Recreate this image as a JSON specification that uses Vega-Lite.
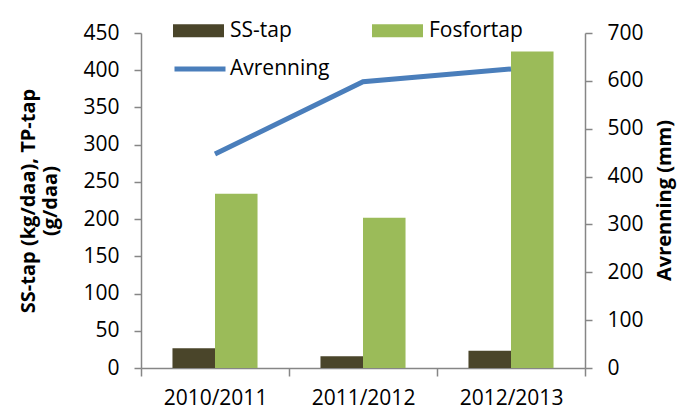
{
  "$schema": "https://vega.github.io/schema/vega-lite/v6.json",
  "width": 444,
  "height": 335,
  "autosize": {"type": "none"},
  "padding": {"left": 141, "top": 33, "right": 92, "bottom": 42},
  "background": "white",
  "datasets": {
    "bars": [
      {"year": "2010/2011", "series": "SS-tap", "value": 26.4},
      {"year": "2010/2011", "series": "Fosfortap", "value": 234},
      {"year": "2011/2012", "series": "SS-tap", "value": 15.7},
      {"year": "2011/2012", "series": "Fosfortap", "value": 201.7},
      {"year": "2012/2013", "series": "SS-tap", "value": 23.3},
      {"year": "2012/2013", "series": "Fosfortap", "value": 425}
    ],
    "flow": [
      {"year": "2010/2011", "avrenning": 447},
      {"year": "2011/2012", "avrenning": 598},
      {"year": "2012/2013", "avrenning": 625}
    ]
  },
  "config": {
    "view": {"stroke": null},
    "font": "Open Sans",
    "axis": {
      "grid": false,
      "domainColor": "#868686",
      "tickColor": "#868686",
      "domainWidth": 1.5,
      "tickWidth": 1.5,
      "labelColor": "#000000",
      "labelFont": "Open Sans",
      "labelFontSize": 21,
      "titleFont": "Open Sans",
      "titleFontSize": 20,
      "titleColor": "#000000",
      "titleFontWeight": "bold"
    },
    "legend": {
      "labelFont": "Open Sans",
      "labelFontSize": 21,
      "labelColor": "#000000",
      "padding": 0,
      "labelOffset": 6
    }
  },
  "layer": [
    {
      "data": {"name": "bars"},
      "mark": {"type": "bar"},
      "encoding": {
        "x": {
          "field": "year",
          "type": "nominal",
          "scale": {"paddingInner": 0, "paddingOuter": 0},
          "axis": {"title": null, "labelAngle": 0, "tickBand": "extent", "tickSize": 8, "labelPadding": 11}
        },
        "xOffset": {
          "field": "series",
          "type": "nominal",
          "sort": ["SS-tap", "Fosfortap"],
          "scale": {"paddingInner": 0, "paddingOuter": 0.74}
        },
        "y": {
          "field": "value",
          "type": "quantitative",
          "scale": {"domain": [0, 450]},
          "axis": {
            "values": [0, 50, 100, 150, 200, 250, 300, 350, 400, 450],
            "title": ["SS-tap (kg/daa), TP-tap", "(g/daa)"],
            "tickSize": 7,
            "labelPadding": 15,
            "titlePadding": 22
          }
        },
        "fill": {
          "field": "series",
          "type": "nominal",
          "sort": ["SS-tap", "Fosfortap"],
          "scale": {"domain": ["SS-tap", "Fosfortap"], "range": ["#4A452A", "#9BBB59"]},
          "legend": {
            "orient": "none",
            "legendX": 32,
            "legendY": -28,
            "direction": "horizontal",
            "title": null,
            "symbolType": "M-1,-0.255H1V0.255H-1Z",
            "symbolSize": 2601,
            "symbolStrokeWidth": 0,
            "symbolOpacity": 1,
            "columnPadding": 80
          }
        }
      }
    },
    {
      "data": {"name": "flow"},
      "mark": {"type": "line", "strokeWidth": 5},
      "encoding": {
        "x": {"field": "year", "type": "nominal"},
        "y": {
          "field": "avrenning",
          "type": "quantitative",
          "scale": {"domain": [0, 700]},
          "axis": {
            "orient": "right",
            "values": [0, 100, 200, 300, 400, 500, 600, 700],
            "title": "Avrenning (mm)",
            "titleAngle": 270,
            "titleX": 79,
            "titleY": 167,
            "titleAlign": "center",
            "titleBaseline": "middle",
            "tickSize": 7,
            "labelPadding": 15
          }
        },
        "stroke": {
          "datum": "Avrenning",
          "type": "nominal",
          "scale": {"domain": ["Avrenning"], "range": ["#4A7EBB"]},
          "legend": {
            "orient": "none",
            "legendX": 31,
            "legendY": 8,
            "title": null,
            "symbolType": "stroke",
            "symbolSize": 2601,
            "symbolStrokeWidth": 5,
            "labelOffset": 2
          }
        }
      }
    }
  ],
  "resolve": {"scale": {"y": "independent"}}
}
